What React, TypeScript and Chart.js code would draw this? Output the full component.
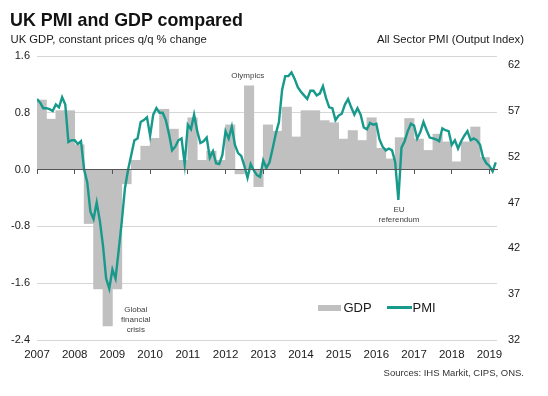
import React, { useEffect, useRef } from 'react';
import { Chart, registerables } from 'chart.js';

Chart.register(...registerables);

// ---- Data ----
const years = [2007, 2008, 2009, 2010, 2011, 2012, 2013, 2014, 2015, 2016, 2017, 2018, 2019];
const gdpTicks = [-2.4, -1.6, -0.8, 0, 0.8, 1.6];
const pmiTicks = [32, 37, 42, 47, 52, 57, 62];

// UK GDP q/q % change, quarterly from 2007 Q1 to 2018 Q4
const gdpStartYear = 2007;
const gdpValues = [
  0.98, 0.71, 0.83, 0.83, // 2007
  0.35, -0.76, -1.68, -2.2, // 2008
  -1.68, -0.2, 0.13, 0.33, // 2009
  0.44, 0.85, 0.57, 0.13, // 2010
  0.73, 0.13, 0.26, 0.13, // 2011
  0.63, -0.06, 1.18, -0.24, // 2012
  0.63, 0.54, 0.88, 0.46, // 2013
  0.83, 0.83, 0.69, 0.66, // 2014
  0.43, 0.55, 0.41, 0.73, // 2015
  0.3, 0.15, 0.45, 0.72, // 2016
  0.43, 0.27, 0.5, 0.39, // 2017
  0.11, 0.39, 0.6, 0.17, // 2018
];

// All Sector PMI (Output Index), monthly from Dec 2006 to Feb 2019 (plotted at month end)
const pmiStartYear = 2006;
const pmiStartMonth = 12;
const pmiValues = [
  58.3, 57.9, 57.3, 57.3, 57.2, 57.0, 57.7, 57.4, 58.5, 57.7,
  53.6, 53.8, 53.8, 53.4, 53.7, 50.6, 49.2, 46.0, 45.2, 47.0,
  45.0, 42.3, 38.7, 37.6, 39.7, 38.7, 41.8, 45.0, 48.6, 50.6,
  52.2, 53.8, 54.0, 55.8, 56.0, 56.3, 54.3, 56.6, 57.3, 56.8,
  56.8, 56.0, 54.5, 52.7, 53.1, 53.8, 54.0, 51.2, 55.5, 55.0,
  56.6, 54.8, 53.5, 53.7, 54.1, 51.9, 52.6, 51.3, 51.2, 52.2,
  54.8, 54.0, 55.3, 53.3, 52.4, 52.1, 51.0, 49.7, 51.2, 50.5,
  50.0, 49.8, 51.6, 50.8, 51.4, 52.9, 54.5, 55.8, 59.3, 60.8,
  60.8, 61.2, 60.5, 59.6, 59.1, 58.7, 58.3, 59.2, 59.2, 58.7,
  58.9, 59.7, 58.4, 57.4, 57.3, 56.0, 56.5, 56.7, 57.7, 58.3,
  57.4, 56.6, 57.3, 56.6, 55.2, 55.0, 55.7, 55.5, 55.6, 53.9,
  53.1, 52.7, 52.9, 52.7, 51.4, 47.3, 53.0, 53.7, 54.8, 55.6,
  55.4, 54.0, 54.7, 55.8, 54.9, 54.1, 54.0, 53.9, 53.7, 55.1,
  54.9, 54.8, 53.3, 53.8, 52.9, 53.7, 54.3, 54.8, 53.8, 54.0,
  53.8, 53.3, 51.9, 51.3, 51.0, 50.4, 51.4,
];

// Annotations anchored in data coordinates (year, GDP value)
const notes = [
  { lines: ['Olympics'], x: 2012.59, y: 1.32 },
  { lines: ['Global', 'financial', 'crisis'], x: 2009.62, y: -1.98 },
  { lines: ['EU', 'referendum'], x: 2016.6, y: -0.57 },
];

const FONT = '"Liberation Sans", Arial, Helvetica, sans-serif';
const TEAL = '#17998b';
const GREY = '#c0c0c0';
const GRID = '#d6d6d6';
const ZERO = '#555555';
const TEXT = '#1a1a1a';

const setYearTicks = (axis: any) => {
  axis.ticks = years.map((v) => ({ value: v }));
};

const notesPlugin = {
  id: 'notes',
  afterDatasetsDraw(chart: any) {
    const { ctx, scales } = chart;
    ctx.save();
    ctx.font = `8px ${FONT}`;
    ctx.fillStyle = '#404040';
    ctx.textAlign = 'center';
    ctx.textBaseline = 'middle';
    notes.forEach((n) => {
      const px = scales.x.getPixelForValue(n.x);
      const py = scales.y.getPixelForValue(n.y);
      n.lines.forEach((t, k) => ctx.fillText(t, px, py + k * 9.7));
    });
    ctx.restore();
  },
};

export default function App() {
  const ref = useRef<HTMLCanvasElement | null>(null);

  useEffect(() => {
    if (!ref.current) return;
    const xMin = 2007;
    const xMax = 2019.2;
    const chart = new Chart(ref.current, {
      type: 'bar',
      data: {
        datasets: [
          {
            type: 'line',
            label: 'PMI',
            data: pmiValues.map((v, i) => ({ x: pmiStartYear + (pmiStartMonth + i) / 12, y: v })),
            xAxisID: 'x',
            yAxisID: 'y2',
            borderColor: TEAL,
            borderWidth: 2.4,
            pointRadius: 0,
            tension: 0,
            order: 0,
          } as any,
          {
            type: 'bar',
            label: 'GDP',
            data: gdpValues.map((v, q) => ({ x: gdpStartYear + (q + 0.5) / 4, y: v })),
            xAxisID: 'x',
            yAxisID: 'y',
            backgroundColor: GREY,
            borderWidth: 0,
            barPercentage: 1,
            categoryPercentage: 1,
            order: 1,
          } as any,
        ],
      },
      options: {
        animation: false,
        responsive: false,
        maintainAspectRatio: false,
        devicePixelRatio: 1,
        layout: { padding: { top: 56, bottom: 26, left: 0, right: 0 } },
        plugins: { legend: { display: false }, tooltip: { enabled: false }, title: { display: false } },
        scales: {
          x: {
            type: 'linear',
            position: 'bottom',
            min: xMin,
            max: xMax,
            offset: false,
            afterBuildTicks: setYearTicks,
            grid: { display: false, drawTicks: false, offset: false },
            border: { display: false },
            ticks: {
              padding: 8,
              color: TEXT,
              font: { family: FONT, size: 11.5 },
              maxRotation: 0,
              autoSkip: false,
              callback: (v: any) => String(v),
            },
            afterFit: (s: any) => {
              s.height = 30;
            },
          },
          xz: {
            type: 'linear',
            position: { y: 0 },
            min: xMin,
            max: xMax,
            offset: false,
            afterBuildTicks: setYearTicks,
            grid: { display: true, drawOnChartArea: false, drawTicks: true, tickLength: 4, color: ZERO, lineWidth: 1, offset: false, z: 1 },
            border: { display: true, color: ZERO, width: 1, z: 1 },
            ticks: { display: false },
          },
          y: {
            type: 'linear',
            position: 'left',
            min: -2.4,
            max: 1.6,
            afterBuildTicks: (axis: any) => {
              axis.ticks = gdpTicks.map((v) => ({ value: v }));
            },
            grid: {
              drawTicks: false,
              lineWidth: 1,
              color: (c: any) => (c.tick && c.tick.value === 0 ? 'rgba(0,0,0,0)' : GRID),
            },
            border: { display: false },
            ticks: {
              padding: 7,
              color: TEXT,
              font: { family: FONT, size: 11 },
              callback: (v: any) => Number(v).toFixed(1),
            },
            afterFit: (s: any) => {
              s.width = 37;
            },
          },
          y2: {
            type: 'linear',
            position: 'right',
            min: 32,
            max: 63,
            afterBuildTicks: (axis: any) => {
              axis.ticks = pmiTicks.map((v) => ({ value: v }));
            },
            grid: { drawOnChartArea: false, drawTicks: false },
            border: { display: false },
            ticks: {
              padding: 11,
              color: TEXT,
              font: { family: FONT, size: 11 },
              callback: (v: any) => String(v),
            },
            afterFit: (s: any) => {
              s.width = 51;
            },
          },
        },
      } as any,
      plugins: [notesPlugin],
    });
    return () => chart.destroy();
  }, []);

  const abs = (o: any): React.CSSProperties => ({
    position: 'absolute',
    whiteSpace: 'nowrap',
    lineHeight: 1,
    fontFamily: FONT,
    color: TEXT,
    ...o,
  });

  return (
    <div style={{ position: 'absolute', left: 0, top: 0, width: 548, height: 396, background: '#fff', overflow: 'hidden' }}>
      <canvas ref={ref} width={548} height={396} style={{ position: 'absolute', left: 0, top: 0, width: 548, height: 396 }} />
      <div style={abs({ left: 10, top: 9.5, fontSize: 19, fontWeight: 'bold', color: '#111', transform: 'scaleX(0.94)', transformOrigin: 'left top' })}>
        UK PMI and GDP compared
      </div>
      <div style={abs({ left: 10.5, top: 33.5, fontSize: 11.3 })}>UK GDP, constant prices q/q % change</div>
      <div style={abs({ right: 24, top: 33.5, fontSize: 11.3 })}>All Sector PMI (Output Index)</div>
      <div style={abs({ right: 24, top: 368, fontSize: 9.5, color: '#333' })}>Sources: IHS Markit, CIPS, ONS.</div>
      {/* Legend */}
      <div style={{ position: 'absolute', left: 318, top: 305, width: 23, height: 5.5, background: GREY }} />
      <div style={abs({ left: 343.5, top: 301, fontSize: 13 })}>GDP</div>
      <div style={{ position: 'absolute', left: 386.5, top: 306.3, width: 25, height: 2.4, background: TEAL }} />
      <div style={abs({ left: 412.5, top: 301, fontSize: 13 })}>PMI</div>
    </div>
  );
}
